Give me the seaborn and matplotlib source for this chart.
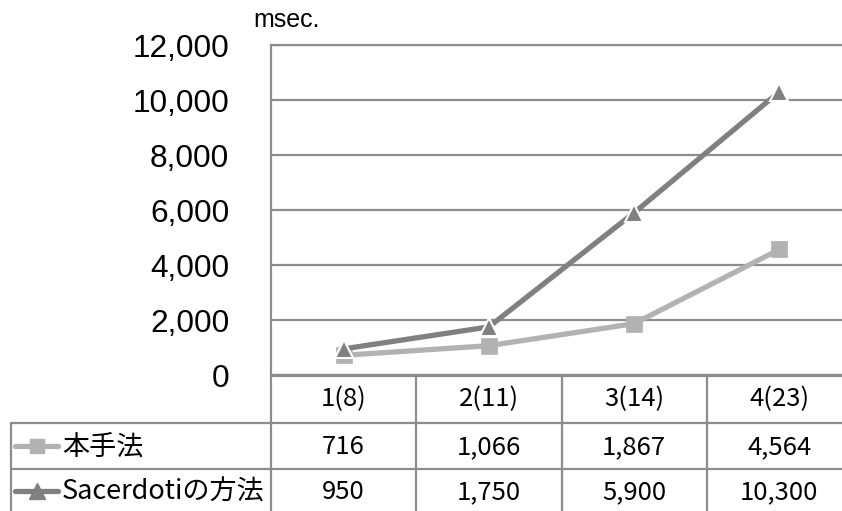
import matplotlib
matplotlib.use("Agg")
import matplotlib.pyplot as plt
from matplotlib.lines import Line2D
from matplotlib.transforms import blended_transform_factory
from matplotlib.ticker import FuncFormatter
import seaborn as sns
import pandas as pd

# Data
categories = ["1(8)", "2(11)", "3(14)", "4(23)"]
series_names = ["本手法", "Sacerdotiの方法"]
honshuho = [716, 1066, 1867, 4564]
sacerdoti = [950, 1750, 5900, 10300]
y_ticks = [0, 2000, 4000, 6000, 8000, 10000, 12000]
unit_label = "msec."

sns.set_style("white")
plt.rcParams["font.family"] = ["Liberation Sans", "Noto Sans CJK JP", "DejaVu Sans"]

W, H = 842, 511
fig = plt.figure(figsize=(W / 100, H / 100), dpi=100)

# plot area in pixel coordinates (origin top-left)
px_left, px_right, px_top, px_bottom = 271, 852, 45, 375
ax = fig.add_axes([px_left / W, 1 - px_bottom / H,
                   (px_right - px_left) / W, (px_bottom - px_top) / H])

line_gray = "#8c8c8c"
c_light = "#b2b2b2"
c_dark = "#808080"

df = pd.DataFrame({
    "pos": list(range(len(categories))) * 2,
    "value": honshuho + sacerdoti,
    "method": [series_names[0]] * len(categories) + [series_names[1]] * len(categories),
})

sns.lineplot(data=df[df.method == series_names[0]], x="pos", y="value",
             color=c_light, lw=3.8, marker="s", markersize=11,
             markeredgecolor=c_light, markeredgewidth=0.5, ax=ax,
             clip_on=False, zorder=3)
sns.lineplot(data=df[df.method == series_names[1]], x="pos", y="value",
             color=c_dark, lw=3.8, marker="^", markersize=13,
             markeredgecolor="white", markeredgewidth=1.5, ax=ax,
             clip_on=False, zorder=4)

ax.set_xlim(-0.5, len(categories) - 0.5)
ax.set_ylim(0, 12000)
ax.set_yticks(y_ticks)
ax.yaxis.set_major_formatter(FuncFormatter(lambda v, p: f"{int(v):,}"))
ax.tick_params(axis="y", length=0, pad=30, labelsize=22.8, labelcolor="black")
ax.set_xticks([])
ax.set_xlabel("")
ax.set_ylabel("")
ax.grid(axis="y", color=line_gray, lw=1.6)
ax.set_axisbelow(True)
for side in ["left", "top", "bottom", "right"]:
    ax.spines[side].set_color(line_gray)
    ax.spines[side].set_linewidth(1.6)
ax.spines["right"].set_visible(False)

fig.text(253 / W, 1 - 27 / H, unit_label, fontsize=18, ha="left",
         va="baseline", color="black")

# Data table under the chart, drawn on a pixel-space overlay
ov = fig.add_axes([0, 0, 1, 1], zorder=5)
ov.set_xlim(0, W)
ov.set_ylim(H, 0)
ov.axis("off")
ov.patch.set_alpha(0)

row_lines = [px_bottom + 1, 423, 469]
row_centers = [399, 446, 491]
table_left = 11
cjk = ["Noto Sans CJK JP", "DejaVu Sans"]
tlw = 1.6
num_fs = 18.5

# horizontal rules
ov.plot([px_left, W], [row_lines[0]] * 2, color=line_gray, lw=tlw)
for yv in row_lines[1:]:
    ov.plot([table_left, W], [yv, yv], color=line_gray, lw=tlw)
# vertical rules
ov.plot([table_left, table_left], [row_lines[1], H], color=line_gray, lw=tlw)
col_tf = blended_transform_factory(ax.transData, ov.transData)
for i in range(len(categories)):
    ov.plot([i - 0.5, i - 0.5], [row_lines[0], H], color=line_gray, lw=tlw,
            transform=col_tf, clip_on=False)

# header row
for i, cat in enumerate(categories):
    ov.text(i, row_centers[0], cat, transform=col_tf, ha="center",
            va="center", fontsize=num_fs, family=cjk, color="black")

# series rows
rows = [(series_names[0], honshuho, c_light, "s", 10, c_light),
        (series_names[1], sacerdoti, c_dark, "^", 11, c_dark)]
for (name, vals, col, mk, ms, mec), yc in zip(rows, row_centers[1:]):
    ov.add_line(Line2D([15, 58], [yc, yc], color=col, lw=3.8))
    ov.add_line(Line2D([36.5], [yc], marker=mk, markersize=ms, color=col,
                       markeredgecolor=mec, linestyle="none"))
    ov.text(62, yc + 1, name, ha="left", va="center", fontsize=19.5,
            family=cjk, color="black")
    for i, v in enumerate(vals):
        ov.text(i, yc + 1, f"{v:,}", transform=col_tf, ha="center",
                va="center", fontsize=num_fs, family=cjk, color="black")

fig.savefig("out.png", dpi=100, facecolor="white")
